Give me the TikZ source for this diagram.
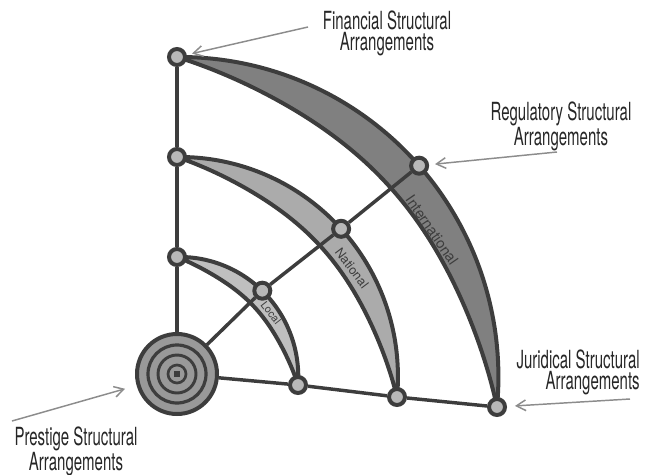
\documentclass[tikz,border=0pt]{standalone}
\usepackage{fontspec}
\setmainfont{TeX Gyre Heros}[FakeStretch=0.6]
\newfontfamily\bandfont{TeX Gyre Heros}
\usetikzlibrary{arrows.meta}
\definecolor{ink}{gray}{0.24}
\definecolor{bandO}{gray}{0.5}
\definecolor{bandM}{gray}{0.67}
\definecolor{bandI}{gray}{0.75}
\definecolor{nodefill}{gray}{0.72}
\definecolor{hubfill}{gray}{0.6}
\definecolor{arrowgray}{gray}{0.55}
\definecolor{txt}{gray}{0.15}
\pgfdeclarelayer{bg}
\pgfsetlayers{bg,main}
\newcommand\lensband[5]{%
  \path[band,fill=#1,shift={(177,374)}]
    plot[domain=-90:#3,samples=90,smooth] (\x:{#2+(#4-#2)*((\x+90)/(#3+90))})
    -- plot[domain=#3:-90,samples=90,smooth]
       (\x:{#2+(#4-#2)*((\x+90)/(#3+90))-#5*sin(((\x+90)/(#3+90))*180)*(1.5-0.5*sin(((\x+90)/(#3+90))*180))})
    -- cycle;}
\begin{document}
\begin{tikzpicture}[x=0.75pt,y=-0.75pt,
  knot/.style={circle,draw=ink,line width=3pt,fill=nodefill,minimum size=12pt,inner sep=0pt},
  hub/.style={circle,draw=ink,line width=3pt,fill=hubfill,minimum size=60pt,inner sep=0pt},
  spoke/.style={draw=ink,line width=2.6pt},
  band/.style={draw=ink,line width=3pt,line join=round},
  lab/.style={font=\fontsize{18.75}{15.75}\selectfont,text=txt,inner sep=0pt},
  pointer/.style={draw=arrowgray,line width=1.1pt,-{Straight Barb[length=7pt,width=8pt]}},
  bandlab/.style={text=ink,inner sep=0pt}]
\useasboundingbox (0,0) rectangle (652,474);

% nodes
\node[hub] (O) at (177,374) {};
\foreach \r/\w in {29/2.4pt,19/2.2pt,9/2pt}{\draw[ink,line width=\w] (O) circle[radius=\r*0.75pt];}
\fill[ink] (O) ++(-2pt,-2pt) rectangle ++(4pt,4pt);

\node[knot] (F) at (177,57) {};
\node[knot] (V2) at (177,157) {};
\node[knot] (V1) at (177,257) {};
\node[knot] (D1) at (262.3,290.7) {};
\node[knot] (D2) at (341.1,228.8) {};
\node[knot] (R) at (419.1,165.7) {};
\node[knot] (B1) at (298,385) {};
\node[knot] (B2) at (397,397) {};
\node[knot] (J) at (497,407) {};

\begin{pgfonlayer}{bg}
  \lensband{bandO}{317}{5.9}{321.7}{36}
  \lensband{bandM}{217}{6.0}{221.2}{27}
  \lensband{bandI}{117}{5.2}{121.5}{17}
  \draw[spoke] (O) -- (V1) -- (V2) -- (F);
  \draw[spoke] (O) -- (D1) -- (D2) -- (R);
  \draw[spoke] (O) -- (B1) -- (B2) -- (J);
\end{pgfonlayer}

% band labels
\node[bandlab,font=\bandfont\fontsize{11}{12}\selectfont,rotate=-55.5] (tI) at (432,230) {International};
\node[bandlab,font=\bandfont\fontsize{9.5}{10}\selectfont,rotate=-53] (tN) at (352,268) {National};
\node[bandlab,font=\bandfont\fontsize{8}{9}\selectfont,rotate=-52] (tL) at (271,313) {Local};

% outer labels
\node[lab,align=center] (lF) at (387,33) {Financial Structural\\Arrangements};
\node[lab,align=center] (lR) at (561,126) {Regulatory Structural\\Arrangements};
\node[lab,align=right,anchor=east] (lJ) at (640,372) {Juridical Structural\\Arrangements};
\node[lab,align=center] (lP) at (76,451) {Prestige Structural\\Arrangements};

% pointers
\coordinate (aF) at (308,27);
\coordinate (aR) at (557,152);
\coordinate (aJ) at (630,399);
\coordinate (aP) at (12,421);
\draw[pointer,shorten >=4pt] (aF) -- (F);
\draw[pointer,shorten >=4.5pt] (aR) -- (R);
\draw[pointer,shorten >=6pt] (aJ) -- (J);
\draw[pointer,shorten >=9pt] (aP) -- (O);
\end{tikzpicture}
\end{document}
